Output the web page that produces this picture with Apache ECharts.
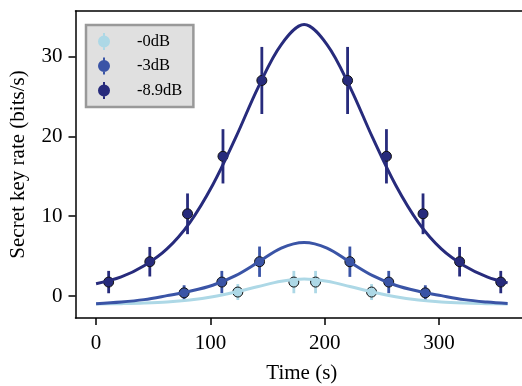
<!DOCTYPE html>
<html>
<head>
<meta charset="utf-8">
<script src="https://cdn.jsdelivr.net/npm/echarts@6/dist/echarts.min.js"></script>
<style>
  html, body { margin: 0; padding: 0; background: #fff; }
  #chart { width: 522px; height: 386px; }
</style>
</head>
<body>
<div id="chart"></div>
<script>
// measured points (time in s, rate in bits/s, error half-width)
const lightT = [124, 173, 192, 241];
const lightY = [0.5, 1.75, 1.75, 0.5];
const lightErr = [1.0, 1.4, 1.4, 1.0];

const midT = [77, 110, 143, 222, 256, 288];
const midY = [0.4, 1.75, 4.3, 4.3, 1.75, 0.4];
const midErr = [0.95, 1.4, 1.9, 1.9, 1.4, 0.95];

const darkT = [11, 47, 80, 111, 145, 220, 254, 286, 318, 354];
const darkY = [1.75, 4.3, 10.3, 17.5, 27.0, 27.0, 17.5, 10.3, 4.3, 1.75];
const darkErr = [1.4, 1.85, 2.55, 3.4, 4.2, 4.2, 3.4, 2.55, 1.85, 1.4];

// fitted curves
const fitT = [0, 22, 42, 62, 82, 102, 122, 142, 162, 182, 202, 222, 242, 262, 282, 302, 322, 342, 360];
const lightFit = [-1.0, -0.95, -0.88, -0.75, -0.5, -0.1, 0.5, 1.2, 1.85, 2.15, 1.85, 1.2, 0.5, -0.1, -0.5, -0.75, -0.88, -0.95, -1.0];
const midFit = [-0.95, -0.75, -0.45, 0.05, 0.6, 1.35, 2.55, 4.25, 6.0, 6.7, 6.0, 4.25, 2.55, 1.35, 0.6, 0.05, -0.45, -0.75, -0.93];
const darkFit = [1.55, 2.4, 3.8, 5.9, 9.2, 13.9, 19.8, 26.2, 31.5, 34.0, 31.5, 26.2, 19.8, 13.9, 9.2, 5.9, 3.8, 2.4, 1.65];

const names = ["-0dB", "-3dB", "-8.9dB"];
const colors = ["#add8e6", "#3a54a6", "#272b7c"];
const xTicks = [0, 100, 200, 300];
const yTicks = [0, 10, 20, 30];

const font = "Liberation Serif";
const zip = (a, b, c) => a.map((v, i) => (c ? [v, b[i], c[i]] : [v, b[i]]));

const groups = [
  { t: lightT, y: lightY, e: lightErr, fit: lightFit },
  { t: midT, y: midY, e: midErr, fit: midFit },
  { t: darkT, y: darkY, e: darkErr, fit: darkFit },
];

const series = [];
groups.forEach((g, i) => {
  series.push({
    name: names[i] + " fit",
    type: "line",
    data: zip(fitT, g.fit),
    smooth: 0.35,
    showSymbol: false,
    lineStyle: { color: colors[i], width: 3 },
  });
  series.push({
    name: names[i] + " err",
    type: "custom",
    data: zip(g.t, g.y, g.e),
    encode: { x: 0, y: 1 },
    renderItem(params, api) {
      const x = api.value(0), y = api.value(1), e = api.value(2);
      const a = api.coord([x, y - e]);
      const b = api.coord([x, y + e]);
      return {
        type: "line",
        shape: { x1: a[0], y1: a[1], x2: b[0], y2: b[1] },
        style: { stroke: colors[i], lineWidth: 2.8 },
      };
    },
  });
  series.push({
    name: names[i],
    type: "scatter",
    data: zip(g.t, g.y),
    symbolSize: 10,
    itemStyle: { color: colors[i], borderColor: "#111", borderWidth: 1, opacity: 1 },
  });
});

const spine = { color: "#000", width: 1.5 };

const chart = echarts.init(document.getElementById("chart"));
chart.setOption({
  animation: false,
  grid: {
    left: 75.5, top: 11, width: 452.7, height: 307,
    outerBoundsMode: "none",
  },
  legend: {
    data: names,
    orient: "vertical",
    left: 86, top: 25,
    padding: [8, 11, 8, 12],
    itemGap: 7.5,
    itemWidth: 12, itemHeight: 17,
    icon: "path://M5,0h2v17h-2z M0,8.5a6,6 0 1,1 12,0a6,6 0 1,1 -12,0z",
    itemStyle: { borderWidth: 0 },
    backgroundColor: "#e0e0e0",
    borderColor: "#999",
    borderWidth: 2.5,
    textStyle: { fontFamily: font, fontSize: 16.5, color: "#000", padding: [0, 0, 0, 22] },
  },
  xAxis: [
    {
      type: "value", min: -18, max: 378,
      name: "Time (s)", nameLocation: "middle", nameGap: 45,
      nameTextStyle: { fontFamily: font, fontSize: 21, color: "#000" },
      axisLine: { show: true, onZero: false, lineStyle: spine },
      axisTick: { show: true, length: 7, customValues: xTicks, lineStyle: spine },
      axisLabel: { customValues: xTicks, margin: 15, fontFamily: font, fontSize: 21, color: "#000" },
      splitLine: { show: false },
    },
    {
      // top spine only
      type: "value", min: -18, max: 378, position: "top",
      axisLine: { show: true, onZero: false, lineStyle: spine },
      axisTick: { show: false },
      axisLabel: { show: false },
      splitLine: { show: false },
    },
  ],
  yAxis: {
    type: "value", min: -2.75, max: 35.7,
    name: "Secret key rate (bits/s)", nameLocation: "middle", nameGap: 47,
    nameTextStyle: { fontFamily: font, fontSize: 21, color: "#000" },
    axisLine: { show: true, onZero: false, lineStyle: spine },
    axisTick: { show: true, length: 7, customValues: yTicks, lineStyle: spine },
    axisLabel: { customValues: yTicks, margin: 13, fontFamily: font, fontSize: 21, color: "#000" },
    splitLine: { show: false },
  },
  series: series,
});
</script>
</body>
</html>
